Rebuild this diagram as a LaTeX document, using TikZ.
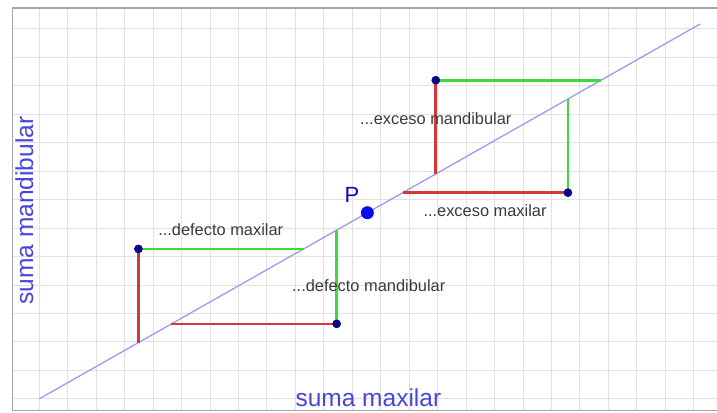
\documentclass[tikz,border=0pt]{standalone}
\usepackage{fontspec}
\setmainfont{Liberation Sans}
\usepackage{xcolor}
\usetikzlibrary{positioning}
\definecolor{rejilla}{HTML}{E2E2E2}
\definecolor{marco}{HTML}{A6A6A6}
\definecolor{recta}{HTML}{9C9CEC}
\definecolor{rojo}{HTML}{D23A3A}
\definecolor{verde}{HTML}{3ADC3A}
\definecolor{azul}{HTML}{0A0AF0}
\definecolor{ejes}{HTML}{4646DC}
\definecolor{texto}{HTML}{3A3A3A}

\begin{document}
\begin{tikzpicture}[
  x=33.04pt, y=18.74pt,
  grid/.style={draw=rejilla,line width=0.9pt},
  frame/.style={draw=marco,line width=1.6pt},
  diag/.style={draw=recta,line width=1.3pt},
  rojoseg/.style={draw=rojo,line width=2.6pt},
  verdeseg/.style={draw=verde,line width=2.6pt},
  dot/.style={circle,fill=azul!60!black,draw=azul!40!black,line width=0.6pt,inner sep=0pt,minimum size=8pt},
  bigdot/.style={circle,fill=azul,inner sep=0pt,minimum size=13pt},
  etiqueta/.style={anchor=base,text=texto,font=\fontsize{16.4}{19}\selectfont},
  eje/.style={anchor=base,text=ejes,font=\fontsize{24.5}{28}\selectfont}
]
\useasboundingbox (-1.1895,-0.7044) rectangle (20.511,21.281);
\fill[white] (-1.1895,-0.7044) rectangle (20.511,21.281);

% cuadricula y marco
\draw[grid] (-0.817,-0.62) grid (20.511,20.84);
\draw[frame] (20.511,20.84) -- (-0.817,20.84) -- (-0.817,-0.62) -- (20.511,-0.62);

% recta de equilibrio
\coordinate (o) at (0,0);
\coordinate (fin) at (20,20);
\draw[diag] (o) -- (fin);

% defecto
\coordinate (dmx) at (3,8);
\coordinate (dmxr) at (3,3);
\coordinate (dmxv) at (8,8);
\coordinate (dmd) at (9,4);
\coordinate (dmdr) at (4,4);
\coordinate (dmdv) at (9,9);
% exceso
\coordinate (emd) at (12,17);
\coordinate (emdr) at (12,12);
\coordinate (emdv) at (17,17);
\coordinate (emx) at (16,11);
\coordinate (emxr) at (11,11);
\coordinate (emxv) at (16,16);

\draw[rojoseg] (dmx) -- (dmxr); \draw[verdeseg] (dmx) -- (dmxv);
\draw[rojoseg] (dmd) -- (dmdr); \draw[verdeseg] (dmd) -- (dmdv);
\draw[rojoseg] (emd) -- (emdr); \draw[verdeseg] (emd) -- (emdv);
\draw[rojoseg] (emx) -- (emxr); \draw[verdeseg] (emx) -- (emxv);

\foreach \p in {dmx,dmd,emd,emx}
  \node[dot] (p-\p) at (\p) {};
\node[bigdot] (P) at (9.93,9.93) {};

% textos
\node[etiqueta] (t-emd) at (12,14.66) {...exceso mandibular};
\node[etiqueta] (t-emx) at (13.49,9.74) {...exceso maxilar};
\node[etiqueta] (t-dmx) at (5.49,8.72) {...defecto maxilar};
\node[etiqueta] (t-dmd) at (9.97,5.72) {...defecto mandibular};
\node[anchor=base,text=azul!80!black,font=\fontsize{22}{26}\selectfont] (t-P) at (9.46,10.46) {P};
\node[eje,inner sep=1pt] (ejex) at (9.96,-0.42) {suma maxilar};
\node[eje,rotate=90] (ejey) at (-0.19,10.05) {suma mandibular};
\end{tikzpicture}
\end{document}
